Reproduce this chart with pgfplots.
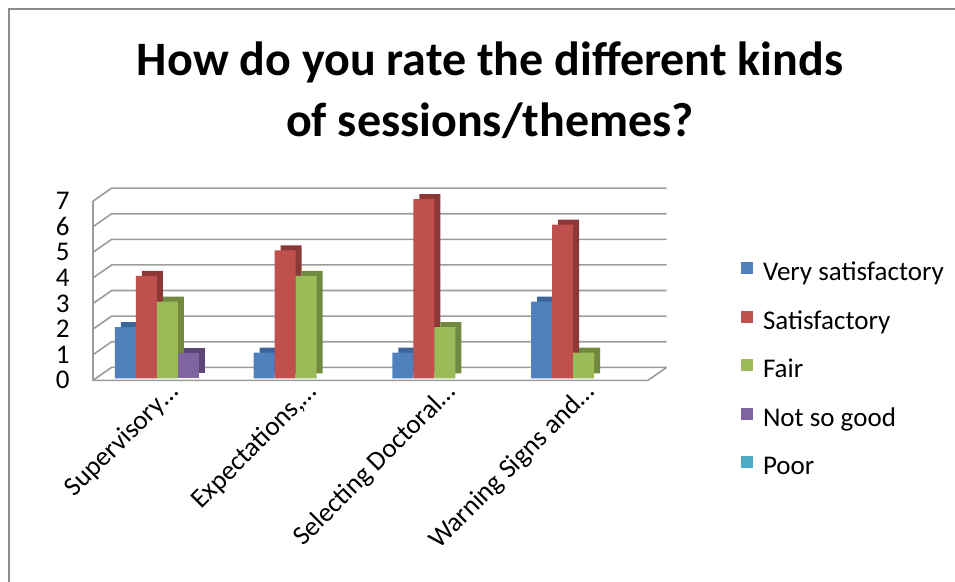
\documentclass[border=0pt]{standalone}
\usepackage{pgfplots}
\pgfplotsset{compat=1.18}
\usepackage{fontspec}
\setmainfont{Carlito}
\definecolor{c1}{HTML}{4F81BD}\definecolor{d1}{HTML}{3A6596}
\definecolor{c2}{HTML}{C0504D}\definecolor{d2}{HTML}{8C3836}
\definecolor{c3}{HTML}{9BBB59}\definecolor{d3}{HTML}{71893F}
\definecolor{c4}{HTML}{8064A2}\definecolor{d4}{HTML}{5C4776}
\definecolor{c5}{HTML}{4BACC6}\definecolor{d5}{HTML}{357D91}
\definecolor{gridc}{HTML}{9C9C9C}
\definecolor{framec}{HTML}{8C8C8C}
\begin{document}
\begin{tikzpicture}
\useasboundingbox (0pt,0pt) rectangle (955pt,581pt);
\draw[framec, line width=1.5pt] (9pt,-2pt) -- (9pt,572pt) -- (957pt,572pt);
\node[font=\fontsize{48}{57}\selectfont\bfseries, anchor=base, inner sep=0pt] at (490pt,505pt) {How do you rate the different kinds};
\node[font=\fontsize{48}{57}\selectfont\bfseries, anchor=base, inner sep=0pt] at (490pt,444pt) {of sessions/themes?};
\begin{axis}[
  at={(98pt,202.7pt)}, anchor=south west,
  scale only axis, width=555pt, height=179.2pt,
  xmin=-0.5, xmax=3.5, ymin=0, ymax=7,
  clip=false,
  ybar, bar width=21pt,
  axis line style={draw=none},
  major tick length=0pt,
  tick style={draw=none},
  ytick={0,1,2,3,4,5,6,7},
  xtick={0,1,2,3},
  xticklabels={Supervisory…,{Expectations,…},Selecting Doctoral…,Warning Signs and…},
  /pgf/number format/assume math mode=true,
  yticklabel style={font=\fontsize{27}{30}\selectfont, anchor=east, xshift=-25pt, yshift=-2pt},
  xticklabel style={font=\fontsize{27}{30}\selectfont, inner sep=0pt, xshift=12pt, yshift=-15pt, anchor=base east, rotate=45},
  legend style={at={(1.1586,0.651)}, anchor=north west, draw=none, fill=none,
    inner sep=0pt, outer sep=0pt, row sep=23.5pt, column sep=10pt,
    font=\fontsize{27}{30}\selectfont,
    nodes={inner sep=0pt, text height=19pt, text depth=6pt}},
  legend cell align=left,
  sq/.style={legend image code/.code={\fill[##1] (0pt,0pt) rectangle (12pt,12pt);}},
]
% walls and grid
\pgfplotsinvokeforeach{0,...,7}{
  \draw[gridc, line width=1.6pt] ([shift={(-5pt,-2pt)}]axis cs:-0.5,#1) -- ([shift={(13.7pt,11pt)}]axis cs:-0.5,#1) -- ([shift={(13.7pt,11pt)}]axis cs:3.5,#1);
}
\draw[gridc, line width=1.6pt] ([shift={(-5pt,-2pt)}]axis cs:-0.5,7) -- ([shift={(-5pt,-2pt)}]axis cs:-0.5,0) -- ([shift={(-5pt,-2pt)}]axis cs:3.5,0) -- ([shift={(13.7pt,11pt)}]axis cs:3.5,0);
% Very satisfactory
\addplot[forget plot, fill=d1, draw=none, bar shift=-42pt, xshift=6pt, yshift=5pt] coordinates {(0,2) (1,1) (2,1) (3,3)};
\addplot[sq, fill=c1, draw=none, bar shift=-42pt] coordinates {(0,2) (1,1) (2,1) (3,3)};
% Satisfactory
\addplot[forget plot, fill=d2, draw=none, bar shift=-21pt, xshift=6pt, yshift=5pt] coordinates {(0,4) (1,5) (2,7) (3,6)};
\addplot[sq, fill=c2, draw=none, bar shift=-21pt] coordinates {(0,4) (1,5) (2,7) (3,6)};
% Fair
\addplot[forget plot, fill=d3, draw=none, bar shift=0pt, xshift=6pt, yshift=5pt] coordinates {(0,3) (1,4) (2,2) (3,1)};
\addplot[sq, fill=c3, draw=none, bar shift=0pt] coordinates {(0,3) (1,4) (2,2) (3,1)};
% Not so good (zero elsewhere)
\addplot[forget plot, fill=d4, draw=none, bar shift=21pt, xshift=6pt, yshift=5pt] coordinates {(0,1)};
\addplot[sq, fill=c4, draw=none, bar shift=21pt] coordinates {(0,1)};
% Poor (all zero)
\addlegendimage{sq, fill=c5, draw=none}
\legend{Very satisfactory,Satisfactory,Fair,Not so good,Poor}
\end{axis}
\end{tikzpicture}
\end{document}
